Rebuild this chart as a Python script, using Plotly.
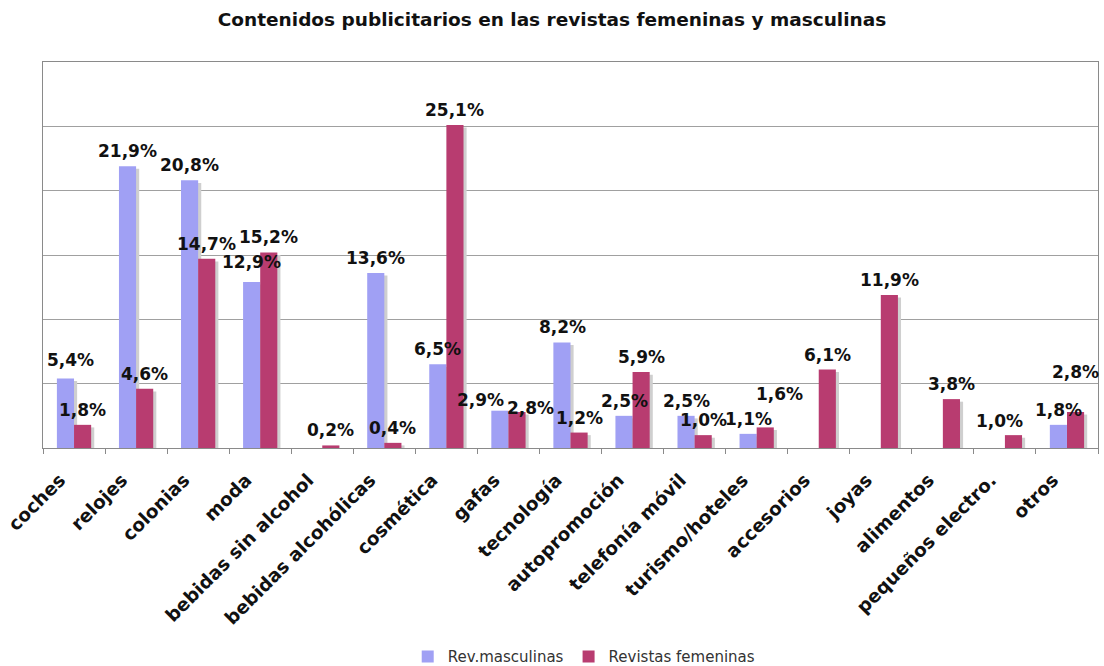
import plotly.graph_objects as go

categorias = ["coches", "relojes", "colonias", "moda", "bebidas sin alcohol",
              "bebidas alcohólicas", "cosmética", "gafas", "tecnología",
              "autopromoción", "telefonía móvil", "turismo/hoteles", "accesorios",
              "joyas", "alimentos", "pequeños electro.", "otros"]
masculinas = [5.4, 21.9, 20.8, 12.9, None, 13.6, 6.5, 2.9, 8.2, 2.5, 2.5, 1.1,
              None, None, None, None, 1.8]
femeninas = [1.8, 4.6, 14.7, 15.2, 0.2, 0.4, 25.1, 2.8, 1.2, 5.9, 1.0, 1.6,
             6.1, 11.9, 3.8, 1.0, 2.8]

# ajustes manuales de posicion de etiquetas (px): (dx, dy hacia arriba)
ajuste_masc = {0: (5, 19), 3: (0, 20), 7: (-19, 11)}
ajuste_fem = {7: (14, 4), 11: (14, 33), 15: (-14, 14), 16: (0, 40)}

def etiqueta(v):
    return f"{v:.1f}%".replace(".", ",")

BW = 0.276
FONT = "DejaVu Sans"
COL_M = "#a0a0f4"
COL_F = "#b83c70"
fig = go.Figure()

# sombras
for vals, off in [(masculinas, -BW), (femeninas, 0.0)]:
    fig.add_trace(go.Bar(
        x=categorias, y=vals,
        base=[None if v is None else -0.2 for v in vals],
        width=BW, offset=off + 0.05,
        marker=dict(color="#cfcfcf", line=dict(width=0)),
        showlegend=False, hoverinfo="skip"))

fig.add_trace(go.Bar(
    x=categorias, y=masculinas, name="Rev.masculinas",
    width=BW, offset=-BW,
    marker=dict(color=COL_M, line=dict(width=0))))
fig.add_trace(go.Bar(
    x=categorias, y=femeninas, name="Revistas femeninas",
    width=BW, offset=0.0,
    marker=dict(color=COL_F, line=dict(width=0))))

anotaciones = []
half_px = 8.5
for serie, ajustes, sgn in [(masculinas, ajuste_masc, -1), (femeninas, ajuste_fem, 1)]:
    for i, (c, v) in enumerate(zip(categorias, serie)):
        if v is None:
            continue
        dx, dy = ajustes.get(i, (0, 15))
        anotaciones.append(dict(
            x=c, y=v, xref="x", yref="y", text=etiqueta(v), showarrow=False,
            xshift=sgn * half_px + dx, yshift=dy, yanchor="middle", xanchor="center",
            font=dict(family=FONT, size=17, color="#111111", weight="bold")))

fig.update_layout(
    width=1104, height=666,
    barmode="overlay",
    paper_bgcolor="white", plot_bgcolor="white",
    margin=dict(l=43, r=6, t=62, b=218, autoexpand=False),
    annotations=anotaciones,
    title=dict(text="<b>Contenidos publicitarios en las revistas femeninas y masculinas</b>",
               x=0.5, xanchor="center", y=0.97, yanchor="middle",
               font=dict(family=FONT, size=18.5, color="#111111")),
    legend=dict(orientation="h", x=0.513, xanchor="center",
                yref="container", y=0.014, yanchor="middle",
                font=dict(family=FONT, size=15, color="#333333"),
                traceorder="normal", itemwidth=30),
    font=dict(family=FONT),
)
fig.update_xaxes(
    type="category", tickangle=-45, tickson="boundaries", automargin=False,
    ticks="outside", ticklen=5, tickcolor="#8a8a8a",
    ticklabelstandoff=13, ticklabelshift=-14,
    showline=True, linecolor="#8a8a8a", linewidth=1, mirror=True,
    showgrid=False,
    tickfont=dict(family=FONT, size=18.5, color="#111111", weight="bold"),
    range=[-0.5, len(categorias) - 0.5])
fig.update_yaxes(
    range=[0, 30], dtick=5, showticklabels=False, automargin=False,
    showgrid=True, gridcolor="#a0a0a0", gridwidth=1,
    showline=True, linecolor="#8a8a8a", linewidth=1, mirror=True,
    zeroline=False)

fig.write_html(
    "out.html",
    config={"displayModeBar": False, "responsive": False},
    post_script=("document.body.style.margin='0';"
                 "var gd=document.getElementById('{plot_id}');"
                 "gd.style.position='fixed';gd.style.top='0px';gd.style.left='0px';"))
